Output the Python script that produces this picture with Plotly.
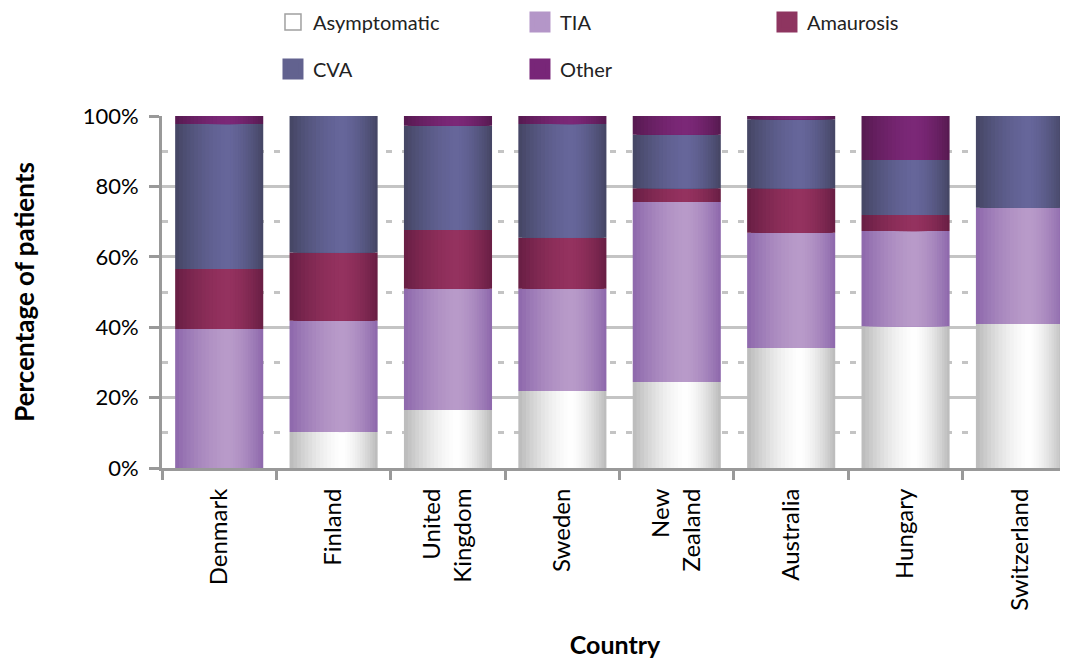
import plotly.graph_objects as go

countries = ["Denmark", "Finland", "United<br>Kingdom", "Sweden", "New<br>Zealand",
             "Australia", "Hungary", "Switzerland"]
asymptomatic = [0.0, 10.2, 16.5, 21.9, 24.4, 34.1, 40.3, 40.9]
tia = [39.5, 31.6, 34.4, 29.0, 51.2, 32.7, 27.0, 33.0]
amaurosis = [17.0, 19.4, 16.7, 14.5, 3.9, 12.7, 4.6, 0.0]
cva = [41.2, 38.8, 29.6, 32.3, 15.2, 19.6, 15.6, 26.1]
other = [2.3, 0.0, 2.8, 2.3, 5.3, 0.9, 12.5, 0.0]

series_names = ["Asymptomatic", "TIA", "Amaurosis", "CVA", "Other"]
series_values = [asymptomatic, tia, amaurosis, cva, other]
# (edge colour, highlight colour, legend colour, legend border)
styles = [
    ("#bdbdbd", "#ffffff", "#ffffff", "#a0a0a0"),
    ("#8f6aad", "#b99bc9", "#b496c8", "#b496c8"),
    ("#6a1f45", "#95325f", "#8e3560", "#8e3560"),
    ("#464766", "#66669b", "#62628f", "#62628f"),
    ("#581a52", "#7c2878", "#782678", "#782678"),
]
legend_of = ["legend", "legend", "legend", "legend2", "legend2"]

FONT = "Lato"


def hex2rgb(h):
    h = h.lstrip("#")
    return [int(h[i:i + 2], 16) for i in (0, 2, 4)]


def mix(c1, c2, t):
    a, b = hex2rgb(c1), hex2rgb(c2)
    return "rgb(%d,%d,%d)" % tuple(round(a[i] + (b[i] - a[i]) * t) for i in range(3))


fig = go.Figure()

BW = 0.77      # bar width in category units
PEAK = 0.6     # highlight position across the bar
K = 14         # gradient steps

bases = []
cum = [0.0] * len(countries)
for vals in series_values:
    bases.append(list(cum))
    cum = [c + v for c, v in zip(cum, vals)]

for (name, vals, base, st) in zip(series_names, series_values, bases, styles):
    edge, peak = st[0], st[1]
    for k in range(K):
        frac = 1 - k / K
        t = 1 - frac ** 1.6
        width = BW * frac
        left = -BW / 2 + BW * PEAK * (1 - frac)
        fig.add_trace(go.Bar(
            x=countries, y=vals, base=base,
            width=[width] * len(countries), offset=[left] * len(countries),
            marker=dict(color=mix(edge, peak, t), line=dict(width=0)),
            showlegend=False, hoverinfo="skip",
        ))

for name, st, lg in zip(series_names, styles, legend_of):
    fig.add_trace(go.Scatter(
        x=[None], y=[None], mode="markers", name=name,
        marker=dict(symbol="square", size=16, color=st[2],
                    line=dict(color=st[3], width=1.5 if name == "Asymptomatic" else 5)),
        legend=lg,
    ))

legend_common = dict(
    orientation="h", yanchor="middle", xanchor="left",
    font=dict(family=FONT, size=20, color="#222"),
    entrywidth=202, entrywidthmode="pixels",
    bgcolor="rgba(0,0,0,0)", itemwidth=30,
)
fig.update_layout(
    legend=dict(x=0.1225, y=1.267, **legend_common),
    legend2=dict(x=0.1225, y=1.1335, **legend_common),
)

fig.update_layout(
    barmode="overlay",
    width=1060, height=651,
    margin=dict(l=154, r=0, t=108, b=191, autoexpand=False),
    plot_bgcolor="white", paper_bgcolor="white",
    font=dict(family=FONT, color="black"),
    xaxis=dict(
        type="category", range=[-0.5, 7.42],
        tickangle=-90, tickson="boundaries", ticks="outside", ticklen=9,
        tickwidth=2.5, tickcolor="#999999",
        showline=True, linecolor="#999999", linewidth=3,
        tickfont=dict(family=FONT, size=24, color="black"),
        ticklabelstandoff=8,
        showgrid=False,
        title=dict(text="<b>Country</b>", font=dict(family=FONT, size=25, color="black"),
                   standoff=30),
    ),
    yaxis=dict(
        range=[0, 100], dtick=20, ticksuffix="%",
        ticks="outside", ticklen=10, tickwidth=2.5, tickcolor="#999999",
        showline=True, linecolor="#999999", linewidth=3,
        zeroline=False,
        showgrid=True, gridcolor="#c4c4c4", gridwidth=2.5,
        minor=dict(dtick=10, showgrid=True, gridcolor="#c4c4c4", gridwidth=2.5,
                   griddash="6px,10px", ticks=""),
        tickfont=dict(family=FONT, size=22, color="black"),
        ticklabelstandoff=6,
        title=dict(text="<b>Percentage of patients</b>",
                   font=dict(family=FONT, size=26, color="black"), standoff=45),
    ),
)

fig.write_html("out.html")
